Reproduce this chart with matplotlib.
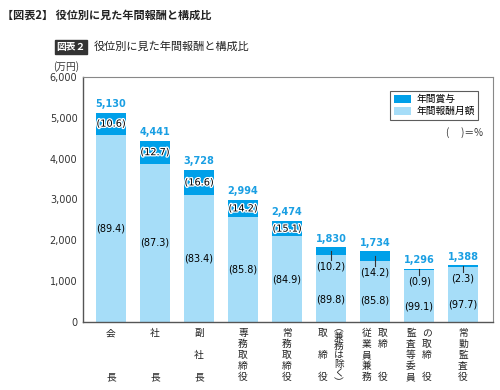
import numpy as np
import matplotlib.pyplot as plt
import matplotlib.patheffects as pe
from matplotlib.patches import Rectangle

plt.rcParams['font.family'] = ['Noto Sans CJK JP', 'DejaVu Sans']

# data
totals = [5130, 4441, 3728, 2994, 2474, 1830, 1734, 1296, 1388]
bonus_pct = [10.6, 12.7, 16.6, 14.2, 15.1, 10.2, 14.2, 0.9, 2.3]
monthly_pct = [89.4, 87.3, 83.4, 85.8, 84.9, 89.8, 85.8, 99.1, 97.7]
# x labels: vertical columns, left to right, '　' = empty row
cat_cols = [["会　　　長"], ["社　　　長"], ["副　社　長"], ["専務取締役"], ["常務取締役"],
            ["取　締　役", "︵兼務は除く︶"], ["従業員兼務", "取締　　役"],
            ["監査等委員", "の取締　役"], ["常勤監査役"]]
yticks = [0, 1000, 2000, 3000, 4000, 5000, 6000]

C_BONUS = '#00a0e9'
C_MONTH = '#a6ddf8'
C_VAL = '#1a9fe3'
NARROW = ['Liberation Sans Narrow', 'DejaVu Sans']

totals = np.array(totals, dtype=float)
bonus = totals * np.array(bonus_pct) / 100
monthly = totals - bonus
x = np.arange(len(totals))

fig = plt.figure(figsize=(5, 3.9), dpi=100)
ax = fig.add_axes([83/500, 1-322/390, 410/500, 245/390])

w = 0.68
ax.bar(x, monthly, w, color=C_MONTH, label='年間報酬月額', zorder=2)
ax.bar(x, bonus, w, bottom=monthly, color=C_BONUS, label='年間賞与', zorder=2)

halo = [pe.withStroke(linewidth=1.8, foreground='white')]
for i in x:
    t = totals[i]
    ax.text(i, t + 90, f'{int(t):,}', ha='center', va='bottom', color=C_VAL,
            fontsize=7, fontweight='bold', family=NARROW)
    if bonus[i] > 300:
        ax.text(i, monthly[i] + bonus[i]/2, f'({bonus_pct[i]})', ha='center', va='center',
                fontsize=7, family=NARROW, path_effects=halo, zorder=3)
        ax.text(i, monthly[i]/2, f'({monthly_pct[i]})', ha='center', va='center',
                fontsize=7, family=NARROW, zorder=3)
    else:
        ly = monthly[i] - 285
        ax.plot([i, i], [t - bonus[i]/2, ly + 160], color='#333333', lw=0.8, zorder=3)
        ax.text(i, ly, f'({bonus_pct[i]})', ha='center', va='center',
                fontsize=7, family=NARROW, zorder=3)
        ax.text(i, t*0.3, f'({monthly_pct[i]})', ha='center', va='center',
                fontsize=7, family=NARROW, zorder=3)

ax.set_xlim(-0.636, 8.68)
ax.set_ylim(0, 6000)
ax.set_yticks(yticks)
ax.set_yticklabels([f'{v:,}' for v in yticks], family=NARROW, fontsize=7, color='#333333')
ax.tick_params(axis='y', length=0, pad=4)
ax.set_xticks([])
for s in ['top', 'right']:
    ax.spines[s].set_color('#888888')
    ax.spines[s].set_linewidth(0.8)
for s in ['left', 'bottom']:
    ax.spines[s].set_color('#555555')
    ax.spines[s].set_linewidth(1.0)

# vertical category labels
def px2fig(px, py):
    return px/500, 1 - py/390

for i, cols in enumerate(cat_cols):
    cx = 111 + 44*i
    n = len(cols)
    offs = [0] if n == 1 else [-8, 8]
    for col, dx in zip(cols, offs):
        chars = list(col)
        if len(chars) == 7:
            ys = np.linspace(328, 382, 7)
        else:
            ys = np.linspace(333, 377, len(chars))
        for ch, yy in zip(chars, ys):
            if ch == '　':
                continue
            fx, fy = px2fig(cx + dx, yy)
            fig.text(fx, fy, ch, ha='center', va='center', fontsize=7, color='#222222')

handles, labels = ax.get_legend_handles_labels()
leg = ax.legend(handles[::-1], labels[::-1], loc='upper right', bbox_to_anchor=(0.9756, 0.963),
                fontsize=7, frameon=True, fancybox=False, edgecolor='#333333',
                handlelength=1.8, handleheight=0.9, borderpad=0.35, labelspacing=0.2,
                handletextpad=0.5)
leg.get_frame().set_linewidth(0.8)
ax.text(0.9756, 0.775, '(\u3000 )＝%', transform=ax.transAxes, ha='right', va='center',
        fontsize=7, color='#333333')

# titles
fig.text(2/500, 1-15/390, '【図表2】 役位別に見た年間報酬と構成比', fontsize=8,
         fontweight='bold', va='center', ha='left', color='#222222')
fig.patches.append(Rectangle((55/500, 1-54/390), 32/500, 14/390, transform=fig.transFigure,
                             color='#333333', zorder=1))
fig.text(71/500, 1-47/390, '図表２', fontsize=7, color='white', fontweight='bold',
         ha='center', va='center')
fig.text(94/500, 1-47/390, '役位別に見た年間報酬と構成比', fontsize=8, ha='left',
         va='center', color='#222222')
fig.text(66/500, 1-67/390, '(万円)', fontsize=7, ha='center', va='center', color='#333333')

fig.savefig('out.png', dpi=100)
